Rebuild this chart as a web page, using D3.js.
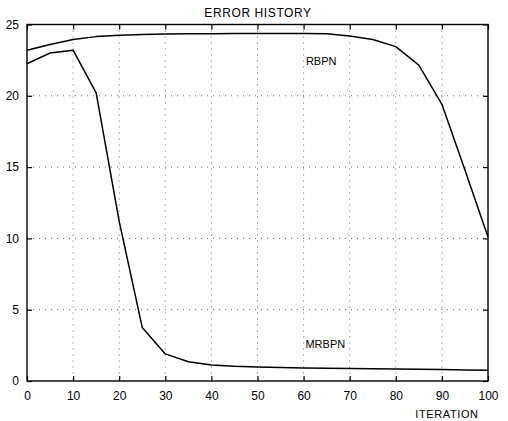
<!DOCTYPE html>
<html>
<head>
<meta charset="utf-8">
<script src="https://cdn.jsdelivr.net/npm/d3@7"></script>
<style>
  body { margin: 0; background: #fff; }
  svg { font-family: "Liberation Sans", Arial, sans-serif; }
  .grid line { stroke: #666; stroke-dasharray: 1,5; stroke-width: 1; }
</style>
</head>
<body>
<svg class="chart" width="508" height="421"></svg>
<script>
var iterations = [0, 5, 10, 15, 20, 25, 30, 35, 40, 45, 50, 55, 60, 65, 70, 75, 80, 85, 90, 95, 100];
var rbpn = [23.2, 23.6, 23.95, 24.15, 24.25, 24.3, 24.33, 24.35, 24.36, 24.37, 24.37, 24.37, 24.37, 24.35, 24.2, 23.95, 23.45, 22.15, 19.4, 14.8, 10.1];
var mrbpn = [22.25, 23.0, 23.2, 20.2, 11.2, 3.75, 1.9, 1.35, 1.12, 1.03, 0.98, 0.95, 0.92, 0.9, 0.88, 0.86, 0.84, 0.82, 0.8, 0.78, 0.76];
var xTicks = [0, 10, 20, 30, 40, 50, 60, 70, 80, 90, 100];
var yTicks = [0, 5, 10, 15, 20, 25];

var svg = d3.select(".chart");
var margin = {top: 24.5, right: 20, bottom: 40, left: 27};
var width = +svg.attr("width") - margin.left - margin.right;
var height = +svg.attr("height") - margin.top - margin.bottom;

var x = d3.scaleLinear().domain([0, 100]).range([0, width]);
var y = d3.scaleLinear().domain([0, 25]).range([height, 0]);

var g = svg.append("g")
    .attr("transform", "translate(" + margin.left + "," + margin.top + ")");

// dotted grid
g.append("g").attr("class", "grid")
  .selectAll("line").data(xTicks.slice(1, -1)).enter().append("line")
    .attr("x1", x).attr("x2", x).attr("y1", 0).attr("y2", height);
g.append("g").attr("class", "grid")
  .selectAll("line").data(yTicks.slice(1, -1)).enter().append("line")
    .attr("y1", y).attr("y2", y).attr("x1", 0).attr("x2", width);

// axes, ticks pointing inward on all four sides
var axisStyle = function (sel) {
  sel.select(".domain").remove();
  sel.selectAll("line").attr("stroke", "#000").attr("stroke-width", 1.2);
  sel.selectAll("text").attr("fill", "#000").style("font-size", "12px");
};
g.append("g")
    .attr("transform", "translate(0," + height + ")")
    .call(d3.axisBottom(x).tickValues(xTicks).tickSizeInner(-5).tickPadding(10))
    .call(axisStyle);
g.append("g")
    .call(d3.axisTop(x).tickValues(xTicks).tickSizeInner(-5).tickFormat(""))
    .call(axisStyle);
g.append("g")
    .call(d3.axisLeft(y).tickValues(yTicks).tickSizeInner(-5).tickPadding(8))
    .call(axisStyle);
g.append("g")
    .attr("transform", "translate(" + width + ",0)")
    .call(d3.axisRight(y).tickValues(yTicks).tickSizeInner(-5).tickFormat(""))
    .call(axisStyle);

g.append("rect")
    .attr("width", width).attr("height", height)
    .attr("fill", "none").attr("stroke", "#000").attr("stroke-width", 1.4);

var line = d3.line()
    .x(function (d, i) { return x(iterations[i]); })
    .y(function (d) { return y(d); });

[rbpn, mrbpn].forEach(function (s) {
  g.append("path")
      .datum(s)
      .attr("fill", "none")
      .attr("stroke", "#000")
      .attr("stroke-width", 1.5)
      .attr("stroke-linejoin", "round")
      .attr("d", line);
});

// text labels
svg.append("text")
    .attr("x", 258).attr("y", 17)
    .attr("text-anchor", "middle")
    .style("font-size", "12px").style("letter-spacing", "0.6px")
    .text("ERROR HISTORY");
svg.append("text")
    .attr("x", 447).attr("y", 418)
    .attr("text-anchor", "middle")
    .style("font-size", "11px").style("letter-spacing", "0.6px")
    .text("ITERATION");
g.append("text")
    .attr("x", x(60.5)).attr("y", y(22.15))
    .style("font-size", "11px")
    .text("RBPN");
g.append("text")
    .attr("x", x(60.4)).attr("y", y(2.3))
    .style("font-size", "11px")
    .text("MRBPN");
</script>
</body>
</html>
